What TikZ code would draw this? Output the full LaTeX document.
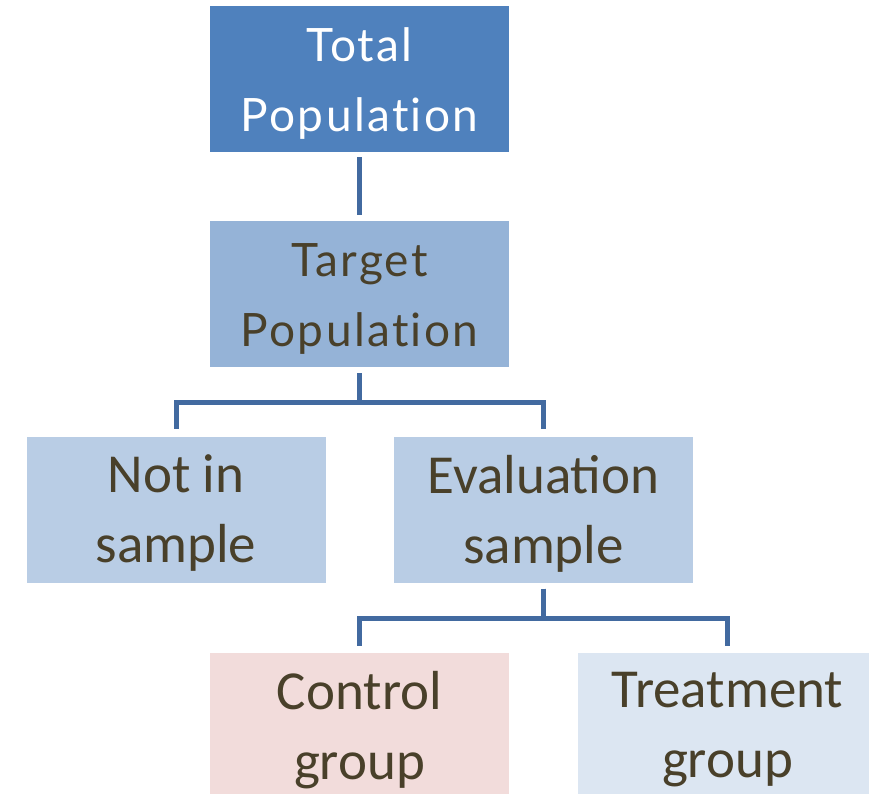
\documentclass[tikz,border=0pt]{standalone}
\usepackage{fontspec}
\setmainfont{Carlito}
\newfontfamily\headfont[Ligatures={NoCommon}, LetterSpace=5]{Lato}

\definecolor{topblue}{HTML}{4F81BD}
\definecolor{midblue}{HTML}{95B3D7}
\definecolor{lowblue}{HTML}{B9CDE5}
\definecolor{pinkbox}{HTML}{F2DCDB}
\definecolor{paleblue}{HTML}{DCE6F2}
\definecolor{linkblue}{RGB}{66,106,160}
\definecolor{darktext}{RGB}{73,64,42}

\tikzset{
  box/.style={rectangle, minimum width=299pt, minimum height=146pt,
    inner sep=0pt},
  headtext/.style={align=center, inner sep=0pt, yshift=-5pt,
    font=\headfont\fontsize{46}{70}\selectfont},
  bodytext/.style={align=center, inner sep=0pt, yshift=-4pt,
    font=\fontsize{55}{70}\selectfont, text=darktext},
  link/.style={draw=linkblue, line width=5pt}
}

\begin{document}
\begin{tikzpicture}[x=1pt, y=-1pt]
  \useasboundingbox (0,0) rectangle (869,794);
  \clip (0,0) rectangle (869,794);

  \node[box, fill=topblue,
    label={[headtext, text=white]center:{Total\\Population}}] (total) at (359.5,79) {};
  \node[box, fill=midblue,
    label={[headtext, text=darktext]center:{Target\\Population}}] (target) at (359.5,294) {};
  \node[box, fill=lowblue,
    label={[bodytext]center:{Not in\\sample}}] (notin) at (176,509.5) {};
  \node[box, fill=lowblue,
    label={[bodytext]center:{Evaluation\\sample}}] (evals) at (543.5,509.5) {};
  \node[box, fill=pinkbox,
    label={[bodytext]center:{Control\\group}}] (control) at (359.5,726) {};
  \node[box, fill=paleblue,
    label={[bodytext]center:{Treatment\\group}}] (treat) at (727.5,726) {};

  % tree connectors
  \draw[link] ([yshift=-5pt]total.south) -- ([yshift=6pt]target.north);
  \draw[link] ([yshift=-6pt]target.south) -- ++(0,-29pt) -| ([yshift=7pt]notin.north);
  \draw[link] ([yshift=-6pt]target.south) -- ++(0,-29pt) -| ([yshift=7pt]evals.north);
  \draw[link] ([yshift=-6pt]evals.south) -- ++(0,-30pt) -| ([yshift=7pt]control.north);
  \draw[link] ([yshift=-6pt]evals.south) -- ++(0,-30pt) -| ([yshift=7pt]treat.north);
\end{tikzpicture}
\end{document}
